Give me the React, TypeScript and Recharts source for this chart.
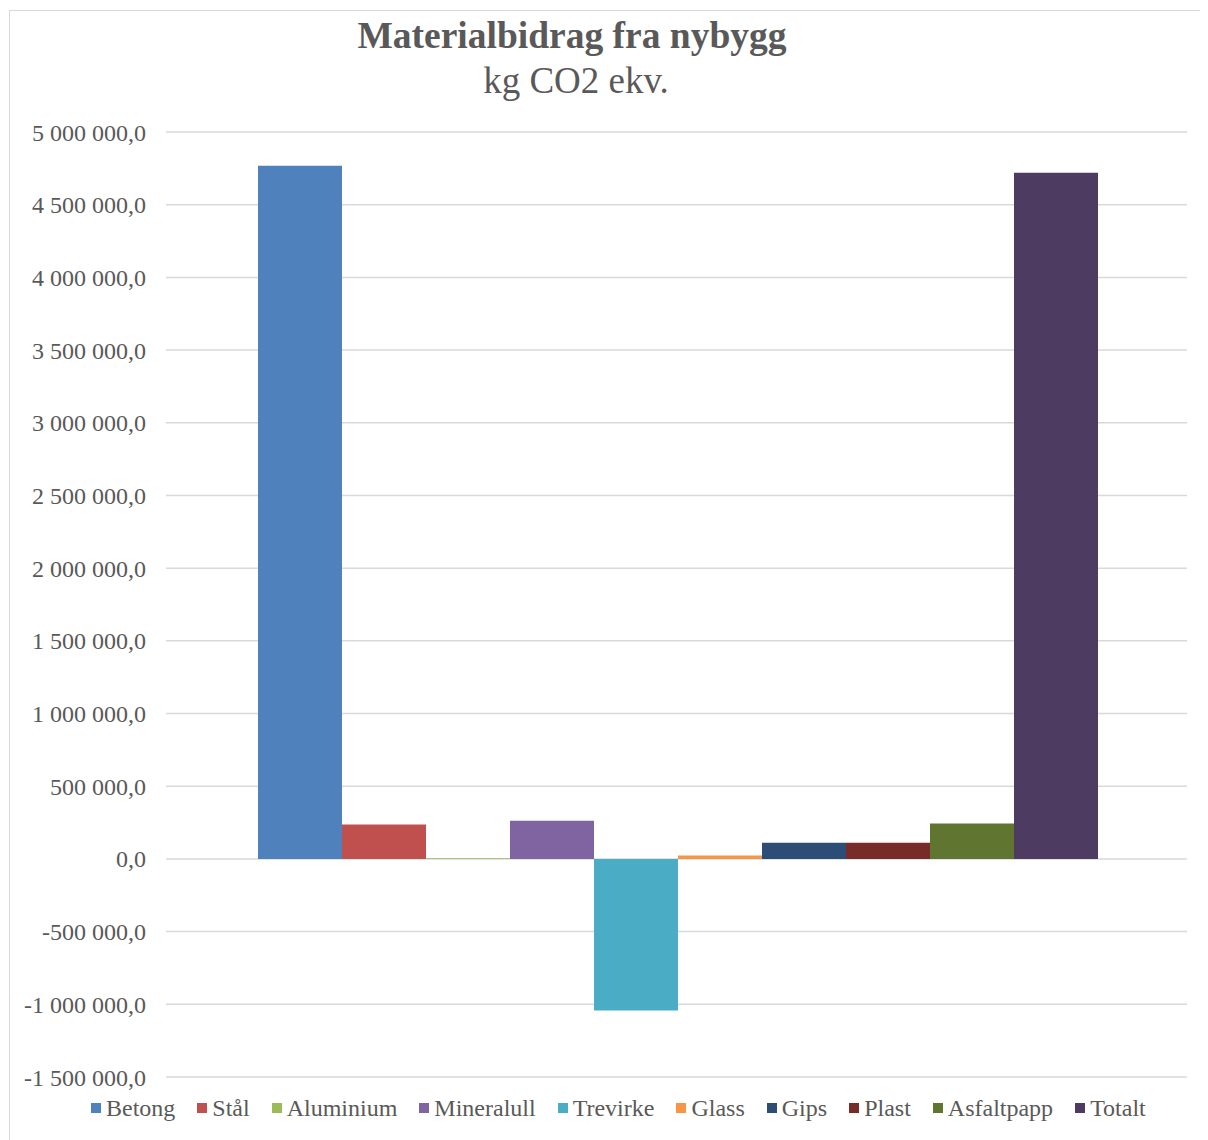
import React from 'react';
import { BarChart, Bar, XAxis, YAxis, CartesianGrid } from 'recharts';

const seriesNames = ['Betong', 'Stål', 'Aluminium', 'Mineralull', 'Trevirke', 'Glass', 'Gips', 'Plast', 'Asfaltpapp', 'Totalt'];
const seriesValues = [4768000, 236000, 5000, 263000, -1043000, 23000, 112000, 112000, 243000, 4720000];
const seriesColors = ['#4F81BD', '#C0504D', '#9BBB59', '#8064A2', '#4BACC6', '#F79646', '#2C4D75', '#772C2A', '#5F7530', '#4D3B62'];
const yTicks = [-1500000, -1000000, -500000, 0, 500000, 1000000, 1500000, 2000000, 2500000, 3000000, 3500000, 4000000, 4500000, 5000000];

const FONT = '"Liberation Serif", "Times New Roman", serif';
const TEXT = '#595959';

const formatTick = (v: number) => {
  const neg = v < 0;
  const s = Math.abs(v).toString().replace(/\B(?=(\d{3})+(?!\d))/g, ' ');
  return (neg ? '-' : '') + s + ',0';
};

export default function App() {
  const row: Record<string, number | string> = { name: 'nybygg' };
  seriesNames.forEach((n, i) => {
    row[n] = seriesValues[i];
  });
  const data = [row];

  return (
    <div style={{ position: 'relative', marginLeft: 1, marginTop: 2, width: 1199, height: 1130, fontFamily: FONT }}>
      <div
        style={{
          position: 'absolute',
          left: 0,
          top: 0,
          width: 1199,
          height: 1130,
          borderLeft: '1px solid #d9d9d9',
          borderTop: '1px solid #d9d9d9',
          boxSizing: 'border-box',
          pointerEvents: 'none',
        }}
      />
      <div
        style={{
          position: 'absolute',
          left: 263,
          width: 600,
          top: 5,
          textAlign: 'center',
          color: TEXT,
          fontSize: 37.5,
          fontWeight: 'bold',
          lineHeight: '42px',
        }}
      >
        Materialbidrag fra nybygg
      </div>
      <div
        style={{
          position: 'absolute',
          left: 267,
          width: 600,
          top: 50,
          textAlign: 'center',
          color: TEXT,
          fontSize: 37,
          lineHeight: '42px',
        }}
      >
        kg CO2 ekv.
      </div>
      <BarChart
        width={1199}
        height={1130}
        data={data}
        margin={{ top: 122, right: 21, bottom: 63, left: 0 }}
        barCategoryGap={92}
        barGap={0}
      >
        <CartesianGrid vertical={false} stroke="#d9d9d9" strokeWidth={1.5} />
        <XAxis dataKey="name" hide />
        <YAxis
          width={157}
          domain={[-1500000, 5000000]}
          ticks={yTicks}
          interval={0}
          tickFormatter={formatTick}
          axisLine={false}
          tickLine={false}
          tickSize={0}
          tickMargin={20}
          tick={{ fill: TEXT, fontSize: 24, fontFamily: FONT }}
        />
        {seriesNames.map((n, i) => (
          <Bar key={n} dataKey={n} fill={seriesColors[i]} isAnimationActive={false} />
        ))}
      </BarChart>
      <div
        style={{
          position: 'absolute',
          left: 82,
          top: 1084,
          display: 'flex',
          alignItems: 'center',
          color: TEXT,
          fontSize: 24,
          lineHeight: '28px',
          whiteSpace: 'nowrap',
        }}
      >
        {seriesNames.map((n, i) => (
          <div key={n} style={{ display: 'flex', alignItems: 'center', marginRight: 22 }}>
            <span style={{ display: 'inline-block', width: 10, height: 10, background: seriesColors[i], marginRight: 5 }} />
            <span>{n}</span>
          </div>
        ))}
      </div>
    </div>
  );
}
